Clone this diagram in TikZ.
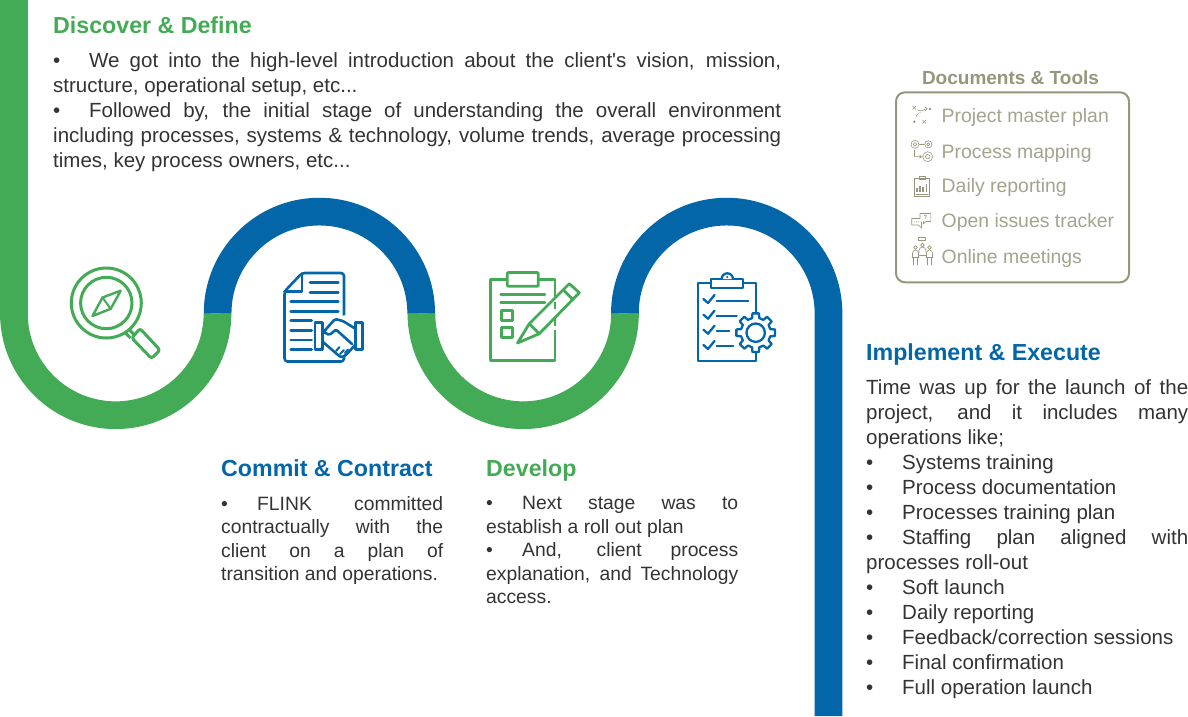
\documentclass[tikz,border=0pt]{standalone}
\usepackage{fontspec}
\setmainfont{Liberation Sans}
\definecolor{flinkgreen}{HTML}{43AB55}
\definecolor{flinkblue}{HTML}{0366A8}
\definecolor{bodyink}{HTML}{333333}
\definecolor{toolbox}{HTML}{96967C}
\definecolor{toolink}{HTML}{A3A38E}
\newcommand{\bul}{\makebox[36pt][l]{•}}
\tikzset{
  ribbon/.style={line width=27.7pt,line cap=butt},
  heading/.style={anchor=base west,inner sep=0pt,font=\fontsize{23.2}{25}\selectfont\bfseries},
  bigcopy/.style={anchor=north west,inner sep=0pt,align=justify,text=bodyink,font=\fontsize{20.5}{25}\selectfont},
  smallcopy/.style={anchor=north west,inner sep=0pt,align=justify,text=bodyink,font=\fontsize{19.3}{23.5}\selectfont},
  toolitem/.style={anchor=base west,inner sep=0pt,text=toolink,font=\fontsize{19.4}{24}\selectfont},
  gicon/.style={draw=flinkgreen,line width=3pt,line join=round,line cap=round},
  bicon/.style={draw=flinkblue,line width=2.6pt,line join=round,line cap=round},
  ticon/.style={draw=toolbox,line width=0.6pt,line join=round,line cap=round},
}
\begin{document}
\begin{tikzpicture}[x=1pt,y=-1pt]
\useasboundingbox (0,0) rectangle (1188,716);

% winding ribbon
\draw[ribbon,flinkgreen] (13.9,0) -- (13.9,313.4) arc (180:0:101.8);
\draw[ribbon,flinkgreen] (421.4,313.4) arc (180:0:101.8);
\draw[ribbon,flinkblue] (217.6,313.4) arc (180:360:101.8);
\draw[ribbon,flinkblue] (624.9,313.4) arc (180:360:101.8) -- (828.5,716);

% headings and copy
\node[heading,text=flinkgreen] (h1) at (53,33) {Discover \& Define};
\node[bigcopy,text width=728pt] (t1) at (53,52.5) {\bul We got into the high-level introduction about the client\textquotesingle s vision, mission,\linebreak structure, operational setup, etc...\par
\bul Followed by, the initial stage of understanding the overall environment\linebreak including processes, systems \& technology, volume trends, average processing\linebreak times, key process owners, etc...};

\node[heading,text=flinkblue] (h2) at (221,476) {Commit \& Contract};
\node[smallcopy,text width=222pt] (t2) at (221,496) {\bul FLINK committed\linebreak contractually with the\linebreak client on a plan of\linebreak transition and operations.};

\node[heading,text=flinkgreen] (h3) at (486,476) {Develop};
\node[smallcopy,text width=252pt] (t3) at (486,496.5) {\bul Next stage was to\linebreak establish a roll out plan\par
\bul And, client process\linebreak explanation, and Technology\linebreak access.};

\node[heading,text=flinkblue] (h4) at (866,360) {Implement \& Execute};
\node[bigcopy,text width=322pt] (t4) at (866,379) {Time was up for the launch of the\linebreak project, and it includes many\linebreak operations like;\par
\bul Systems training\par
\bul Process documentation\par
\bul Processes training plan\par
\bul Staffing plan aligned with\linebreak processes roll-out\par
\bul Soft launch\par
\bul Daily reporting\par
\bul Feedback/correction sessions\par
\bul Final confirmation\par
\bul Full operation launch};

% documents and tools panel
\node[anchor=center,inner sep=0pt,text=toolbox,font=\fontsize{19}{22}\selectfont\bfseries] (dt) at (1010.5,78) {Documents \& Tools};
\draw[toolbox,line width=2pt,rounded corners=9pt] (896,92.3) rectangle (1129,282.3);
\node[toolitem] (i1) at (941.5,122) {Project master plan};
\node[toolitem] (i2) at (941.5,158) {Process mapping};
\node[toolitem] (i3) at (941.5,192) {Daily reporting};
\node[toolitem] (i4) at (941.5,227) {Open issues tracker};
\node[toolitem] (i5) at (941.5,263) {Online meetings};

% tool icon: plan
\draw[ticon] (912.5,106) -- (916,109.5) (916,106) -- (912.5,109.5);
\draw[ticon] (922.5,120) -- (926,123.5) (926,120) -- (922.5,123.5);
\fill[toolbox] (930,109) circle (1.3) (914.3,121.7) circle (1.3);
\draw[ticon] (917.5,110) .. controls (921,112) and (924,110) .. (927,108.5);
\draw[ticon] (924.5,107) -- (927,108.5) -- (925,110.8);
\draw[ticon,densely dotted] (916,117.5) .. controls (917,114) and (918,113) .. (921,112);

% tool icon: process map
\foreach \cx/\cy/\r in {915/144.3/4,928.3/144.3/3.6,927.7/156.7/5}{
  \draw[ticon] (\cx,\cy) circle (\r);
  \draw[ticon] (\cx,\cy) circle (\r*0.45);
}
\draw[ticon] (919.5,144.3) -- (924,144.3);
\draw[ticon] (914.5,150) -- (914.5,156.7) -- (921.5,156.7) (919.5,155) -- (921.5,156.7) -- (919.5,158.4);

% tool icon: daily report
\draw[ticon] (914.5,178) rectangle (929.5,196);
\draw[ticon] (919,176.5) rectangle (925,179.5);
\draw[ticon,line width=1.2pt,line cap=butt] (917,192) -- (917,188) (920,192) -- (920,185.5) (923,192) -- (923,187) (926.5,192) -- (926.5,183.5);
\draw[ticon] (916,193.8) -- (928,193.8);

% tool icon: issues tracker
\draw[ticon] (920,213.5) -- (930.8,213.5) -- (930.8,221.5) -- (926,221.5) -- (923.5,224) -- (923.5,221.5) (920,213.5) -- (920,217.5);
\node[inner sep=0pt,text=toolbox,font=\fontsize{6}{6}\selectfont\bfseries] (qm) at (925.4,217.4) {?};
\draw[ticon] (920,218.5) -- (911.7,218.5) -- (911.7,225) -- (918,225) -- (921.5,228) -- (921.5,222);
\fill[toolbox] (914,221.8) circle (0.5) (916.3,221.8) circle (0.5) (918.6,221.8) circle (0.5);

% tool icon: meeting
\draw[ticon] (918.5,237) rectangle (925.5,240.5);
\foreach \hx/\hy in {915.5/247.5,922.5/245,929.5/247.5}{
  \draw[ticon] (\hx,\hy) circle (1.9);
}
\draw[ticon] (912.5,257) -- (912.5,253) arc (180:360:3) -- (918.5,257);
\draw[ticon] (919,252.5) -- (919,250.5) arc (180:360:3.5) -- (926,252.5);
\draw[ticon] (926.5,257) -- (926.5,253) arc (180:360:3) -- (932.5,257);
\draw[ticon] (912,257.5) -- (919,257.5) (926,257.5) -- (933,257.5) (913.5,257.5) -- (913.5,265) (917.5,257.5) -- (917.5,265) (927.5,257.5) -- (927.5,265) (931.5,257.5) -- (931.5,265);
\draw[ticon] (919.5,255) -- (925.5,255);

% stage icon: magnifier with compass
\draw[gicon] (106.3,303) circle (35);
\draw[gicon] (106.3,303) circle (25.7);
\draw[gicon,line width=2.4pt] (120.7,290.7) -- (102.5,297.5) -- (92.5,316) -- (110.7,308.8) -- cycle;
\draw[gicon,line width=2pt] (102.5,297.5) -- (110.7,308.8);
\draw[gicon,line cap=butt] (128.7,329) -- (134.5,335) (125,332.5) -- (130.5,338);
\draw[gicon,rounded corners=2.5pt] (140,328.5) -- (160,350) -- (151.5,358.5) -- (131.8,338) -- cycle;

% stage icon: contract with handshake
\draw[bicon,rounded corners=3pt] (284.5,291.5) -- (302,273) -- (344,273) -- (344,361.5) -- (284.5,361.5) -- cycle;
\draw[bicon] (302,273.5) -- (302,291.7) -- (284.5,291.7);
\foreach \ly in {282.7,292.3}{\draw[bicon] (310,\ly) -- (338.3,\ly);}
\foreach \ly in {301.7,311.3}{\draw[bicon] (290.7,\ly) -- (338.3,\ly);}
\foreach \ly in {320.7,330.3,340,349.7}{\draw[bicon] (290.7,\ly) -- (311.7,\ly);}
\fill[white] (323,320) -- (346,315) -- (356,322) -- (356,345) -- (343,358) -- (336,356) -- (323,345) -- cycle;
\draw[bicon,fill=white] (315,322.7) rectangle (322.7,349.3);
\draw[bicon,fill=white] (355.2,322.7) rectangle (362.7,349.3);
\draw[bicon,rounded corners=1.5pt] (355,328.5) -- (343,321) -- (335,319) -- (323.5,332) -- (329.5,335) -- (336,329.5) -- (352,344);
\draw[bicon,rounded corners=1.5pt] (323,342) -- (338,355) -- (341.5,357.5) -- (346,355) -- (355,345);
\draw[bicon,line width=2pt] (336,351) -- (339.5,347) (340,354) -- (344,350) (345,353) -- (348,349.5);

% stage icon: clipboard with pencil
\draw[gicon,line width=2.8pt] (555,279.3) -- (490.7,279.3) -- (490.7,360.3) -- (555,360.3) -- cycle;
\draw[gicon,line width=2.8pt,fill=white,rounded corners=1pt] (507.3,272.5) rectangle (538.3,286.3);
\draw[gicon,line width=2.6pt] (500.7,294.3) -- (545,294.3) (500.7,302.7) -- (545,302.7);
\draw[gicon,line width=2.8pt] (501.7,310.3) rectangle (512.3,320.3) (501.7,327.3) rectangle (512.3,337.7);
\fill[white] (553,302) -- (570,302) -- (570,330) -- (553,330) -- cycle;
\draw[gicon,line width=2.8pt,fill=white] (517.5,343) -- (529.3,323.7) -- (569.3,283.7) -- (579.3,292.7) -- (539.3,333.7) -- cycle;
\draw[gicon,line width=2.8pt] (529.3,323.7) -- (539.3,333.7) (563.3,289.8) -- (572.7,299.3);
\draw[gicon,line width=2.6pt,line cap=butt] (555,302) -- (555,309) (555,326) -- (555,318);

% stage icon: checklist with gear
\draw[bicon,line cap=butt,line width=2.3pt] (697.7,283.3) rectangle (756,361);
\draw[bicon,line width=2.3pt,fill=white] (711,279) rectangle (743.3,287.7);
\draw[bicon,line width=2.3pt,fill=white] (721.6,279) arc (180:360:5.7);
\fill[flinkblue] (727.3,277) circle (1.1);
\foreach \cy in {300,315.7,330.7,346}{
  \draw[bicon,line width=2.3pt] (703.5,\cy-1) -- (708,\cy+3) -- (714.5,\cy-5);
}
\draw[bicon,line width=2.3pt] (716.7,300.7) -- (748.3,300.7) (716.7,316) -- (736.7,316) (716.7,331) -- (729.3,331) (716.7,346) -- (733.3,346);
\begin{scope}[shift={(755.7,332.7)}]
  \draw[bicon,line width=2.3pt,fill=white] (-14:15)
    \foreach \a in {0,45,...,315}{ -- (\a-14:15) -- (\a-9.5:19.6) -- (\a+9.5:19.6) -- (\a+14:15) } -- cycle;
  \draw[bicon,line width=2.3pt] (0,0) circle (9.2);
\end{scope}
\end{tikzpicture}
\end{document}
